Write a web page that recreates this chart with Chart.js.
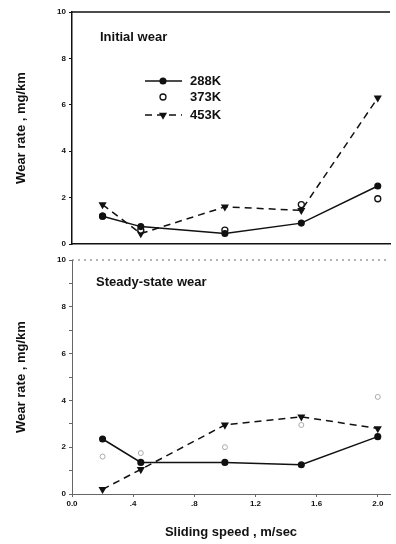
<!DOCTYPE html>
<html>
<head>
<meta charset="utf-8">
<script src="https://cdn.jsdelivr.net/npm/chart.js@4.4.1/dist/chart.umd.min.js"></script>
<style>
  body { margin: 0; background: #fff; }
  canvas { position: absolute; left: 0; }
  #topChart { top: 0; }
  #bottomChart { top: 250px; }
</style>
</head>
<body>
<canvas id="topChart" width="396" height="252"></canvas>
<canvas id="bottomChart" width="396" height="294"></canvas>
<script>
const speeds = [0.2, 0.45, 1.0, 1.5, 2.0];
const seriesNames = ['288K', '373K', '453K'];
const initial288 = [1.2, 0.75, 0.45, 0.9, 2.5];
const initial373 = [1.2, 0.6, 0.6, 1.7, 1.95];
const initial453 = [1.7, 0.45, 1.6, 1.45, 6.3];
const steady288 = [2.35, 1.35, 1.35, 1.25, 2.45];
const steady373 = [1.6, 1.75, 2.0, 2.95, 4.15];
const steady453 = [0.2, 1.05, 2.95, 3.3, 2.8];
const xTicks = [0, 0.4, 0.8, 1.2, 1.6, 2.0];
const xTickLabels = ['0.0', '.4', '.8', '1.2', '1.6', '2.0'];
const yTicks = [0, 2, 4, 6, 8, 10];

const FONT = 'Liberation Sans, Arial, sans-serif';

function pts(vals) {
  return vals.map((v, i) => ({ x: speeds[i], y: v }));
}

function datasets(d288, d373, d453, faint373) {
  return [
    {
      label: seriesNames[0], data: pts(d288),
      borderColor: '#111', backgroundColor: '#111', borderWidth: 1.5,
      pointStyle: 'circle', pointRadius: 2.8
    },
    {
      label: seriesNames[1], data: pts(d373), showLine: false,
      borderColor: faint373 ? '#aaa' : '#111', backgroundColor: '#fff',
      borderWidth: faint373 ? 1 : 1.3, pointStyle: 'circle', pointRadius: faint373 ? 2.5 : 3
    },
    {
      label: seriesNames[2], data: pts(d453),
      borderColor: '#111', backgroundColor: '#111', borderWidth: 1.5, borderDash: [7, 5],
      pointStyle: 'triangle', rotation: 180, pointRadius: 3.2
    }
  ];
}

// panel title, top border and in-plot legend
const panelText = {
  id: 'panelText',
  afterDraw(chart, args, opts) {
    const ctx = chart.ctx;
    const a = chart.chartArea;
    ctx.save();
    ctx.strokeStyle = opts.borderColor;
    ctx.lineWidth = opts.borderWidth;
    ctx.setLineDash(opts.dash || []);
    ctx.beginPath();
    ctx.moveTo(a.left, a.top);
    ctx.lineTo(a.right, a.top);
    ctx.stroke();
    ctx.setLineDash([]);
    ctx.fillStyle = '#111';
    ctx.font = 'bold 13px ' + FONT;
    ctx.textBaseline = 'middle';
    ctx.fillText(opts.title, opts.tx, opts.ty);
    if (opts.legend) {
      const rows = [81, 97, 115];
      chart.data.datasets.forEach((ds, i) => {
        const y = rows[i];
        ctx.strokeStyle = '#111';
        ctx.lineWidth = 1.5;
        if (ds.showLine !== false) {
          ctx.setLineDash(ds.borderDash || []);
          ctx.beginPath();
          ctx.moveTo(145, y);
          ctx.lineTo(182, y);
          ctx.stroke();
          ctx.setLineDash([]);
        }
        ctx.fillStyle = ds.backgroundColor;
        ctx.strokeStyle = ds.borderColor;
        ctx.lineWidth = ds.borderWidth;
        Chart.helpers.drawPoint(ctx, {
          pointStyle: ds.pointStyle, rotation: ds.rotation || 0,
          radius: ds.pointRadius, borderWidth: ds.borderWidth
        }, 163, y);
        ctx.fillStyle = '#111';
        ctx.fillText(ds.label, 190, y);
      });
    }
    ctx.restore();
  }
};

function makeChart(id, ds, cfg) {
  return new Chart(document.getElementById(id), {
    type: 'line',
    data: { datasets: ds },
    plugins: [panelText],
    options: {
      responsive: false,
      animation: false,
      devicePixelRatio: 1,
      layout: { padding: { top: cfg.padTop, right: 6, left: 0, bottom: 0 } },
      plugins: {
        legend: { display: false },
        tooltip: { enabled: false },
        panelText: cfg.text
      },
      scales: {
        x: {
          type: 'linear', min: 0, max: 2.08,
          afterBuildTicks: s => { s.ticks = xTicks.map(v => ({ value: v })); },
          afterFit: s => { s.height = cfg.xHeight; },
          border: { display: true, color: cfg.axisColor, width: cfg.axisWidth, dash: cfg.dash },
          grid: { drawOnChartArea: false, drawTicks: cfg.showX, tickLength: 3, color: cfg.axisColor },
          ticks: {
            display: cfg.showX, padding: 2, color: '#111',
            font: { family: FONT, size: 8, weight: 'bold' },
            callback: (v, i) => xTickLabels[i]
          },
          title: {
            display: cfg.showX, text: 'Sliding speed , m/sec', color: '#111',
            font: { family: FONT, size: 13, weight: 'bold' }, padding: { top: 4, bottom: 4 }
          }
        },
        y: {
          min: 0, max: 10,
          afterBuildTicks: s => {
            const vals = cfg.minor ? [0, 1, 2, 3, 4, 5, 6, 7, 8, 9, 10] : yTicks;
            s.ticks = vals.map(v => ({ value: v }));
          },
          afterFit: s => { s.width = 72; },
          border: { display: true, color: cfg.axisColor, width: cfg.axisWidth, dash: cfg.dash },
          grid: { drawOnChartArea: false, drawTicks: true, tickLength: 3, color: cfg.axisColor },
          ticks: {
            padding: 3, color: '#111',
            font: { family: FONT, size: 8, weight: 'bold' },
            callback: v => (yTicks.includes(v) ? String(v) : '')
          },
          title: {
            display: true, text: 'Wear rate , mg/km', color: '#111',
            font: { family: FONT, size: 13, weight: 'bold' }, padding: { top: 14, bottom: 0 }
          }
        }
      }
    }
  });
}

makeChart('topChart', datasets(initial288, initial373, initial453, false), {
  padTop: 12, xHeight: 8, showX: false, axisColor: '#111', axisWidth: 1.5, dash: [],
  minor: false,
  text: { title: 'Initial wear', tx: 100, ty: 37, legend: true, borderColor: '#111', borderWidth: 1.5 }
});

makeChart('bottomChart', datasets(steady288, steady373, steady453, true), {
  padTop: 10, xHeight: 50, showX: true, axisColor: '#666', axisWidth: 1, dash: [2, 4],
  minor: true,
  text: { title: 'Steady-state wear', tx: 96, ty: 32, legend: false, borderColor: '#666', borderWidth: 1, dash: [2, 4] }
});
</script>
</body>
</html>
